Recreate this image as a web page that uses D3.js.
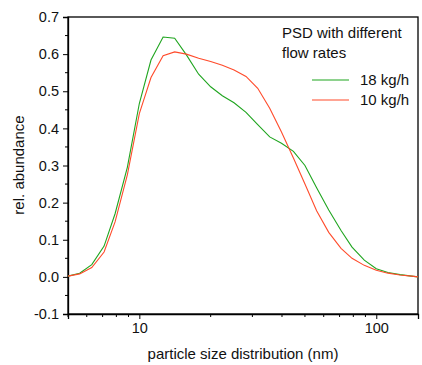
<!DOCTYPE html>
<html>
<head>
<meta charset="utf-8">
<script src="https://cdn.jsdelivr.net/npm/d3@7"></script>
<style>
  body { margin: 0; background: #fff; }
  svg { display: block; font-family: Arial, "Liberation Sans", sans-serif; }
</style>
</head>
<body>
<svg id="chart" width="422" height="365"></svg>
<script>
// particle diameters (nm), log spaced
var sizes = [5.0, 5.6, 6.3, 7.1, 7.9, 8.9, 10, 11.2, 12.6, 14.1, 15.8, 17.8, 20, 22.4, 25.1, 28.2,
             31.6, 35.5, 39.8, 44.7, 50, 56, 63, 71, 79, 89, 100, 112, 126, 141, 150];
var flow18 = [0.002, 0.010, 0.033, 0.083, 0.170, 0.295, 0.467, 0.584, 0.646, 0.643, 0.598, 0.546,
              0.512, 0.488, 0.469, 0.443, 0.410, 0.377, 0.360, 0.338, 0.300, 0.240, 0.180, 0.125,
              0.080, 0.045, 0.022, 0.012, 0.006, 0.002, 0.000];
var flow10 = [0.002, 0.008, 0.025, 0.067, 0.148, 0.275, 0.440, 0.537, 0.596, 0.606, 0.600, 0.589,
              0.580, 0.570, 0.557, 0.540, 0.508, 0.454, 0.390, 0.320, 0.250, 0.178, 0.120, 0.077,
              0.050, 0.031, 0.018, 0.010, 0.005, 0.002, 0.000];
var seriesNames = ["18 kg/h", "10 kg/h"];
var seriesColors = ["#1fa51f", "#ff4b2b"];
var yTicks = [-0.1, 0.0, 0.1, 0.2, 0.3, 0.4, 0.5, 0.6, 0.7];
var xTicks = [10, 100];
var xMinor = [5, 6, 7, 8, 9, 20, 30, 40, 50, 60, 70, 80, 90];

var svg = d3.select("#chart");
var mLeft = 68, mTop = 17, mRight = 418, mBottom = 314;

var x = d3.scaleLog().domain([5, 150]).range([mLeft, mRight]);
var y = d3.scaleLinear().domain([-0.1, 0.7]).range([mBottom, mTop]);

// frame
svg.append("rect")
  .attr("x", mLeft).attr("y", mTop)
  .attr("width", mRight - mLeft).attr("height", mBottom - mTop)
  .attr("fill", "none").attr("stroke", "#000").attr("stroke-width", 1.3);

// x axis
var xAxis = d3.axisBottom(x).tickValues(xTicks).tickFormat(d3.format("d")).tickSize(5).tickPadding(4);
var gx = svg.append("g").attr("transform", "translate(0," + mBottom + ")").call(xAxis);
xMinor.forEach(function(v) {
  gx.append("line").attr("x1", x(v)).attr("x2", x(v)).attr("y1", 0).attr("y2", 3)
    .attr("stroke", "#000");
});

// y axis (plain hyphen for the minus sign, as in the original)
var yAxis = d3.axisLeft(y).tickValues(yTicks)
  .tickFormat(function(d) { return d3.format(".1f")(d).replace("\u2212", "-"); })
  .tickSize(5).tickPadding(4);
var gy = svg.append("g").attr("transform", "translate(" + mLeft + ",0)").call(yAxis);
d3.range(-0.05, 0.7, 0.1).forEach(function(v) {
  gy.append("line").attr("x1", 0).attr("x2", -3).attr("y1", y(v)).attr("y2", y(v))
    .attr("stroke", "#000");
});

[gx, gy].forEach(function(g) {
  g.select(".domain").attr("stroke-width", 1.3);
  g.selectAll("text").attr("font-size", 14.5).attr("font-family", "Arial, 'Liberation Sans', sans-serif")
    .attr("fill", "#111");
});

// axis titles
svg.append("text").attr("x", 243).attr("y", 359).attr("text-anchor", "middle")
  .attr("font-size", 15).attr("fill", "#111").text("particle size distribution (nm)");
svg.append("text").attr("transform", "translate(24,165) rotate(-90)").attr("text-anchor", "middle")
  .attr("font-size", 15).attr("fill", "#111").text("rel. abundance");

// curves
var line = d3.line().x(function(d) { return x(d[0]); }).y(function(d) { return y(d[1]); });
[flow18, flow10].forEach(function(vals, i) {
  svg.append("path")
    .attr("d", line(sizes.map(function(s, j) { return [s, vals[j]]; })))
    .attr("fill", "none").attr("stroke", seriesColors[i]).attr("stroke-width", 1.1);
});

// legend
svg.append("text").attr("x", 282).attr("y", 38).attr("font-size", 15).attr("fill", "#111")
  .text("PSD with different");
svg.append("text").attr("x", 282).attr("y", 58).attr("font-size", 15).attr("fill", "#111")
  .text("flow rates");
seriesNames.forEach(function(n, i) {
  var ly = 80 + i * 20;
  svg.append("line").attr("x1", 312).attr("x2", 349).attr("y1", ly).attr("y2", ly)
    .attr("stroke", seriesColors[i]).attr("stroke-width", 1.1);
  svg.append("text").attr("x", 360).attr("y", ly + 5).attr("font-size", 15).attr("fill", "#111")
    .text(n);
});
</script>
</body>
</html>
